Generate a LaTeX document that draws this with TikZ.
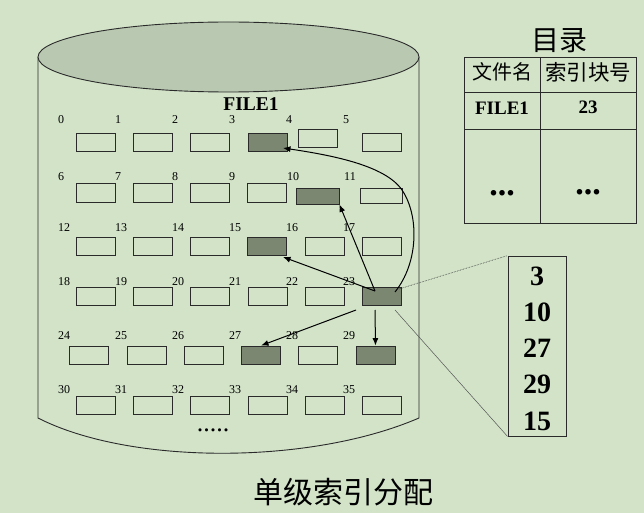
\documentclass[tikz,border=0pt]{standalone}
\usepackage{fontspec}
\setmainfont{Liberation Serif}
\newfontfamily\cjk{Noto Sans CJK SC}
\usetikzlibrary{arrows.meta,calc}
\definecolor{bg}{HTML}{D2E3C8}
\definecolor{topfill}{HTML}{B9C9B1}
\definecolor{darkbox}{HTML}{7B8771}
\definecolor{edge}{HTML}{2A2A2A}
\tikzset{
  blk/.style={draw=edge,line width=0.8pt,minimum width=39pt,minimum height=18pt,inner sep=0pt},
  used/.style={blk,fill=darkbox},
  num/.style={inner sep=0pt,font=\fontsize{12}{12}\selectfont},
  arr/.style={draw=black,line width=1pt,-{Latex[length=7.5pt,width=6pt]}},
  idxnum/.style={inner sep=0pt,font=\fontsize{28}{28}\selectfont\bfseries},
  tbl/.style={draw=edge,line width=0.9pt}
}
\begin{document}
\begin{tikzpicture}[x=1pt,y=-1pt]
\fill[bg] (0,0) rectangle (644,513);
\useasboundingbox (0,0) rectangle (644,513);
% disk body
\draw[edge,line width=0.9pt] (38,57) -- (38,418) .. controls (130,465) and (310,465) .. (419,418) -- (419,57);
\draw[edge,line width=0.9pt,fill=topfill] (228.5,57) ellipse [x radius=190.5,y radius=35];
\node[inner sep=0pt,font=\fontsize{19.5}{20}\selectfont\bfseries] (file) at (251,104) {FILE1};
% row 0
\node[blk] (b0) at (95.5,142) {};
\node[blk] (b1) at (152.5,142) {};
\node[blk] (b2) at (210,142) {};
\node[used] (b3) at (267.5,142) {};
\node[blk] (b4) at (318,138) {};
\node[blk] (b5) at (381.5,142) {};
% row 1
\node[blk,minimum height=19pt] (b6) at (95.5,192.5) {};
\node[blk,minimum height=19pt] (b7) at (153,192.5) {};
\node[blk,minimum height=19pt] (b8) at (210,192.5) {};
\node[blk,minimum height=19pt] (b9) at (267,192.5) {};
\node[used,minimum width=43pt,minimum height=16pt] (b10) at (317.5,196) {};
\node[blk,minimum width=42pt,minimum height=15pt] (b11) at (381,195.5) {};
% row 2
\node[blk] (b12) at (95.5,246) {};
\node[blk] (b13) at (152.5,246) {};
\node[blk] (b14) at (209.5,246) {};
\node[used] (b15) at (267,246) {};
\node[blk] (b16) at (324.5,246) {};
\node[blk] (b17) at (381.5,246) {};
% row 3
\node[blk] (b18) at (95.5,296.5) {};
\node[blk] (b19) at (153,296.5) {};
\node[blk] (b20) at (210,296.5) {};
\node[blk] (b21) at (267.5,296.5) {};
\node[blk] (b22) at (324.5,296.5) {};
\node[used] (b23) at (381.5,296.5) {};
% row 4
\node[blk] (b24) at (89,355) {};
\node[blk] (b25) at (146.5,355) {};
\node[blk] (b26) at (203.5,355) {};
\node[used] (b27) at (261,355) {};
\node[blk] (b28) at (318,355) {};
\node[used] (b29) at (375.5,355) {};
% row 5
\node[blk] (b30) at (95.5,405) {};
\node[blk] (b31) at (152.5,405) {};
\node[blk] (b32) at (210,405) {};
\node[blk] (b33) at (267.5,405) {};
\node[blk] (b34) at (324.5,405) {};
\node[blk] (b35) at (381.5,405) {};
% labels
\foreach \t/\x in {0/61,1/118,2/175,3/232,4/289,5/346}{\node[num] (l\t) at (\x,120) {\t};}
\foreach \t/\x in {6/61,7/118,8/175,9/232,10/293,11/350}{\node[num] (l\t) at (\x,177) {\t};}
\foreach \t/\x in {12/64,13/121,14/178,15/235,16/292,17/349}{\node[num] (l\t) at (\x,228) {\t};}
\foreach \t/\x in {18/64,19/121,20/178,21/235,22/292,23/349}{\node[num] (l\t) at (\x,282) {\t};}
\foreach \t/\x in {24/64,25/121,26/178,27/235,28/292,29/349}{\node[num] (l\t) at (\x,336) {\t};}
\foreach \t/\x in {30/64,31/121,32/178,33/235,34/292,35/349}{\node[num] (l\t) at (\x,390) {\t};}
\node[inner sep=0pt,font=\fontsize{26}{26}\selectfont] (dots) at (213,430) {.....};
% arrows
\coordinate (s1) at (375,291);
\coordinate (s2) at (395,292);
\coordinate (s3) at (356,310);
\coordinate (s4) at (375,310);
\coordinate (t3) at (283,148);
\coordinate (t15) at (283,257);
\draw[arr] (s1) -- (b10.south east);
\draw[arr] (s1) -- (t15);
\draw[arr] (s2) .. controls (419,262) and (419,215) .. (402,190) .. controls (385,165) and (330,155) .. (t3);
\draw[arr] (s3) -- (b27.north);
\draw[arr] (s4) -- (b29.north);
% index block
\node[draw=edge,line width=0.9pt,minimum width=58pt,minimum height=180pt,inner sep=0pt] (idx) at (537,346) {};
\node[idxnum] (i1) at (537,276) {3};
\node[idxnum] (i2) at (537,312) {10};
\node[idxnum] (i3) at (537,348) {27};
\node[idxnum] (i4) at (537,384) {29};
\node[idxnum] (i5) at (537,421) {15};
\coordinate (c1) at (399,289);
\coordinate (c2) at (395,310);
\draw[edge,densely dotted,line width=0.6pt] (c1) -- (idx.north west);
\draw[edge!80,line width=0.5pt] (c2) -- (idx.south west);
% directory table
\node[inner sep=0pt,font=\cjk\fontsize{28}{28}\selectfont] (dir) at (559,41) {目录};
\draw[tbl] (464,57) rectangle (636,223);
\draw[tbl] (540,57) -- (540,223);
\draw[tbl] (464,92) -- (636,92);
\draw[tbl] (464,129) -- (636,129);
\node[inner sep=0pt,font=\cjk\fontsize{20}{20}\selectfont] (h1) at (502,72) {文件名};
\node[inner sep=0pt,font=\cjk\fontsize{21.5}{21.5}\selectfont] (h2) at (588,72) {索引块号};
\node[inner sep=0pt,font=\fontsize{19}{19}\selectfont\bfseries] (f1) at (502,108) {FILE1};
\node[inner sep=0pt,font=\fontsize{19}{19}\selectfont\bfseries] (f2) at (588,107) {23};
\node[inner sep=0pt,font=\fontsize{34}{34}\selectfont\bfseries] (d1) at (502,193) {...};
\node[inner sep=0pt,font=\fontsize{34}{34}\selectfont\bfseries] (d2) at (588,192) {...};
% title
\node[inner sep=0pt,font=\cjk\fontsize{30}{30}\selectfont] (title) at (343,492) {单级索引分配};
\end{tikzpicture}
\end{document}
